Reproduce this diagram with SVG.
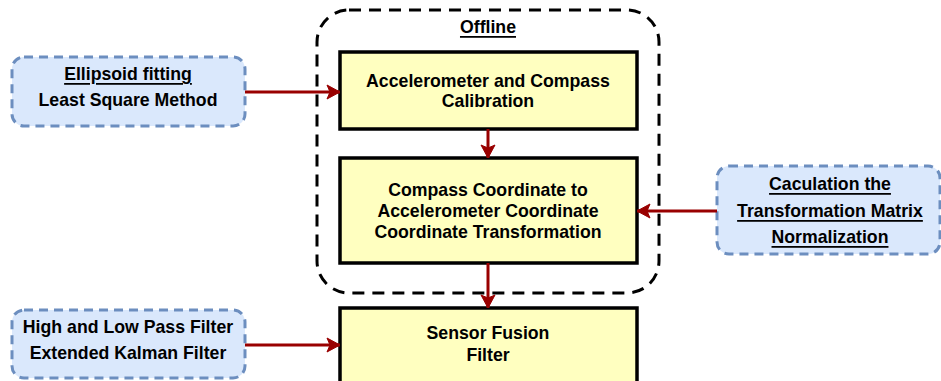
<svg xmlns="http://www.w3.org/2000/svg" width="941" height="381" viewBox="0 0 941 381">
<style>
text{font-family:"Liberation Sans",Arial,sans-serif;font-weight:bold;font-size:17.7px;fill:#000;text-anchor:middle;dominant-baseline:central}
.u{text-decoration:underline}
.in{fill:#dae8fc;stroke:#6c8ebf;stroke-width:3;stroke-dasharray:9 6}
.pr{fill:#ffffc0;stroke:#000;stroke-width:3.5}
.grp{fill:none;stroke:#000;stroke-width:3;stroke-dasharray:12 8}
.c{fill:none;stroke:#990000;stroke-width:3;marker-end:url(#ah)}
</style>
<defs>
<marker id="ah" markerUnits="userSpaceOnUse" markerWidth="16" markerHeight="16" refX="14" refY="8" orient="auto">
<path d="M1,1 L14,8 L1,15 L4,8 Z" fill="#990000" stroke="#990000" stroke-width="1"/>
</marker>
</defs>
<rect width="941" height="381" fill="#fff"/>
<g id="offline">
<rect class="grp" x="317" y="10" width="342" height="283" rx="32"/>
<text class="u" x="488" y="27">Offline</text>
</g>
<g id="calibration">
<rect class="pr" x="340" y="52" width="297" height="77"/>
<text x="488" y="81">Accelerometer and Compass</text>
<text x="488" y="101">Calibration</text>
</g>
<g id="transformation">
<rect class="pr" x="340" y="158" width="297" height="105"/>
<text x="488" y="190">Compass Coordinate to</text>
<text x="488" y="211">Accelerometer Coordinate</text>
<text x="488" y="232">Coordinate Transformation</text>
</g>
<g id="fusion">
<rect class="pr" x="340" y="308" width="297" height="80"/>
<text x="488" y="333">Sensor Fusion</text>
<text x="488" y="355">Filter</text>
</g>
<g id="ellipsoid">
<rect class="in" x="12" y="57" width="233" height="69" rx="12"/>
<text class="u" x="128" y="74">Ellipsoid fitting</text>
<text x="128" y="100">Least Square Method</text>
</g>
<g id="matrix">
<rect class="in" x="717" y="166" width="223" height="88" rx="12"/>
<text class="u" x="830" y="184">Caculation the </text>
<text class="u" x="830" y="211">Transformation Matrix</text>
<text class="u" x="830" y="237">Normalization</text>
</g>
<g id="filters">
<rect class="in" x="12" y="310" width="233" height="68" rx="12"/>
<text x="128" y="327">High and Low Pass Filter</text>
<text x="128" y="353">Extended Kalman Filter</text>
</g>
<g id="connectors">
<path class="c" d="M245,92 L340,92"/>
<path class="c" d="M488,129 L488,158"/>
<path class="c" d="M717,211 L637,211"/>
<path class="c" d="M488,263 L488,308"/>
<path class="c" d="M245,345 L340,345"/>
</g>
</svg>
